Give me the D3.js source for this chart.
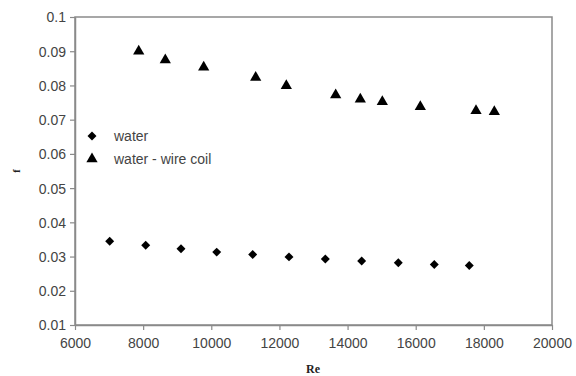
<!DOCTYPE html>
<html><head><meta charset="utf-8">
<script src="https://cdn.jsdelivr.net/npm/d3@7"></script>
<style>body{margin:0;background:#fff}</style>
</head><body>
<svg id="c" width="576" height="376"></svg>
<script>
const waterRe = [7018, 8075, 9111, 10159, 11215, 12281, 13347, 14414, 15489, 16545, 17572];
const waterF  = [0.0345, 0.0333, 0.0323, 0.0313, 0.0306, 0.0299, 0.0293, 0.0287, 0.0282, 0.0277, 0.0274];
const coilRe  = [7870, 8650, 9777, 11303, 12202, 13651, 14374, 15020, 16135, 17770, 18307];
const coilF   = [0.0900, 0.0874, 0.0853, 0.0823, 0.0799, 0.0772, 0.0760, 0.0752, 0.0738, 0.0726, 0.0723];
const xTicks = [6000, 8000, 10000, 12000, 14000, 16000, 18000, 20000];
const yTicks = [0.01, 0.02, 0.03, 0.04, 0.05, 0.06, 0.07, 0.08, 0.09, 0.1];
const seriesNames = ["water", "water - wire coil"];

const svg = d3.select("#c");
const L = 75, R = 552, T = 17, B = 325;
const x = d3.scaleLinear().domain([6000, 20000]).range([L, R]);
const y = d3.scaleLinear().domain([0.01, 0.1]).range([B, T]);
const axisColor = "#8a8a8a", textColor = "#444";
const font = "Liberation Sans, Arial, sans-serif";

svg.append("rect").attr("x", L).attr("y", T).attr("width", R - L).attr("height", B - T)
  .attr("fill", "none").attr("stroke", axisColor).attr("stroke-width", 1.5);

const xa = svg.append("g").attr("transform", `translate(0,${B})`)
  .call(d3.axisBottom(x).tickValues(xTicks).tickFormat(d3.format("d")).tickSize(5).tickSizeOuter(0));
const ya = svg.append("g").attr("transform", `translate(${L},0)`)
  .call(d3.axisLeft(y).tickValues(yTicks).tickFormat(d => d === 0.1 ? "0.1" : d3.format(".2f")(d)).tickSize(5).tickSizeOuter(0));
[xa, ya].forEach(a => {
  a.select(".domain").attr("stroke", axisColor).attr("stroke-width", 1.5);
  a.selectAll(".tick line").attr("stroke", axisColor).attr("stroke-width", 1.2);
  a.selectAll("text").attr("fill", textColor).attr("font-family", font).attr("font-size", 14);
});
xa.selectAll("text").attr("dy", "1.05em");
ya.selectAll("text").attr("x", -9).attr("dy", "0.35em");

const diamond = d3.symbol().type(d3.symbolSquare).size(40);
const tri = d3.symbol().type(d3.symbolTriangle).size(55);
const dRot = " rotate(45)";

svg.append("g").selectAll("path").data(d3.zip(waterRe, waterF)).join("path")
  .attr("d", diamond).attr("transform", d => `translate(${x(d[0])},${y(d[1])})` + dRot).attr("fill", "#000");
svg.append("g").selectAll("path").data(d3.zip(coilRe, coilF)).join("path")
  .attr("d", tri).attr("transform", d => `translate(${x(d[0])},${y(d[1])})`).attr("fill", "#000");

const lg = svg.append("g");
const syms = [diamond, tri];
seriesNames.forEach((n, i) => {
  const yy = 136 + i * 23;
  lg.append("path").attr("d", syms[i]).attr("transform", `translate(92,${yy})` + (i === 0 ? dRot : "")).attr("fill", "#000");
  lg.append("text").attr("x", 114).attr("y", yy).attr("dy", "0.35em").text(n)
    .attr("fill", textColor).attr("font-family", font).attr("font-size", 14);
});

svg.append("text").attr("x", 313).attr("y", 369).attr("dy", "0.35em").attr("text-anchor", "middle")
  .attr("font-family", "Liberation Serif, Times New Roman, serif").attr("font-weight", "bold").attr("font-size", 12)
  .attr("fill", "#222").text("Re");
svg.append("text").attr("transform", "translate(16,171) rotate(-90)").attr("dy", "0.35em").attr("text-anchor", "middle")
  .attr("font-family", "Liberation Serif, Times New Roman, serif").attr("font-weight", "bold").attr("font-size", 10)
  .attr("fill", "#222").text("f");
</script>
</body></html>
